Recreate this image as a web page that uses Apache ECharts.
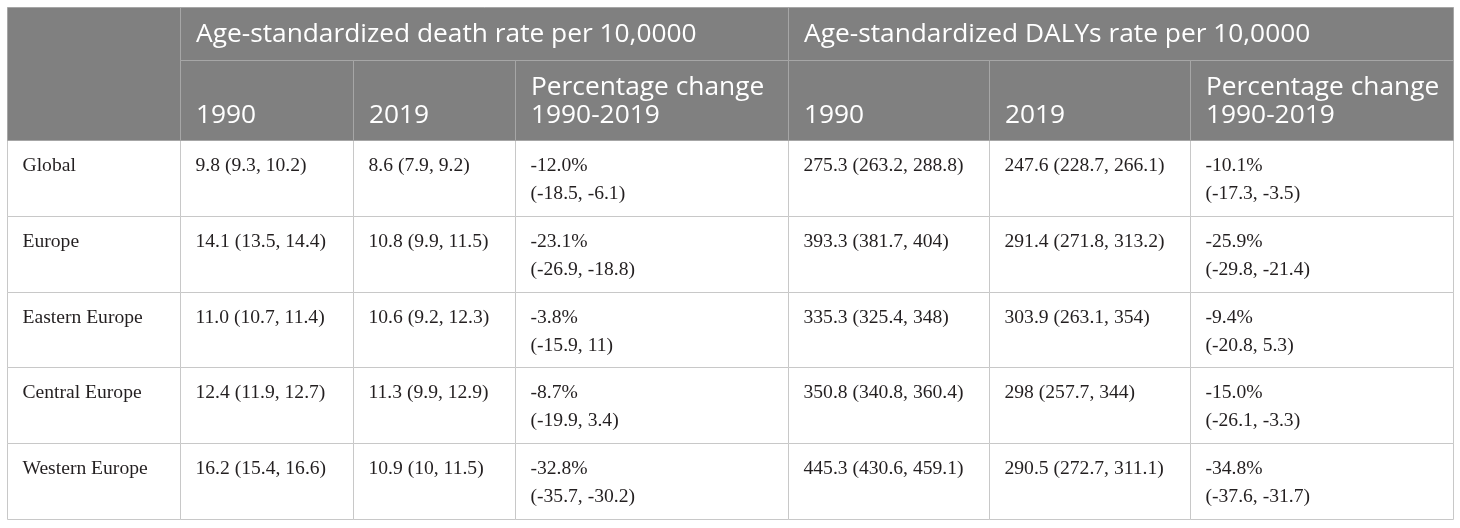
<!DOCTYPE html>
<html><head><meta charset="utf-8">
<script src="https://cdn.jsdelivr.net/npm/echarts@6/dist/echarts.min.js"></script>
<style>html,body{margin:0;padding:0;background:#fff}#c{width:1460px;height:528px}</style>
</head><body><div id="c"></div>
<script>
// ---- data ----
const regions = ['Global', 'Europe', 'Eastern Europe', 'Central Europe', 'Western Europe'];
const groupHeaders = ['Age-standardized death rate per 10,0000', 'Age-standardized DALYs rate per 10,0000'];
const subHeaders = ['1990', '2019', 'Percentage change\n1990-2019', '1990', '2019', 'Percentage change\n1990-2019'];
const death1990 = ['9.8 (9.3, 10.2)', '14.1 (13.5, 14.4)', '11.0 (10.7, 11.4)', '12.4 (11.9, 12.7)', '16.2 (15.4, 16.6)'];
const death2019 = ['8.6 (7.9, 9.2)', '10.8 (9.9, 11.5)', '10.6 (9.2, 12.3)', '11.3 (9.9, 12.9)', '10.9 (10, 11.5)'];
const deathChange = ['-12.0%\n(-18.5, -6.1)', '-23.1%\n(-26.9, -18.8)', '-3.8%\n(-15.9, 11)', '-8.7%\n(-19.9, 3.4)', '-32.8%\n(-35.7, -30.2)'];
const daly1990 = ['275.3 (263.2, 288.8)', '393.3 (381.7, 404)', '335.3 (325.4, 348)', '350.8 (340.8, 360.4)', '445.3 (430.6, 459.1)'];
const daly2019 = ['247.6 (228.7, 266.1)', '291.4 (271.8, 313.2)', '303.9 (263.1, 354)', '298 (257.7, 344)', '290.5 (272.7, 311.1)'];
const dalyChange = ['-10.1%\n(-17.3, -3.5)', '-25.9%\n(-29.8, -21.4)', '-9.4%\n(-20.8, 5.3)', '-15.0%\n(-26.1, -3.3)', '-34.8%\n(-37.6, -31.7)'];

// ---- layout (table geometry in the axis space) ----
const colEdges = [7, 180, 353, 515, 788, 989, 1190, 1453];
const headRows = [7, 60, 140];
const bodyTop = 140, bodyBottom = 519;
const rowH = (bodyBottom - bodyTop) / regions.length;
const headFont = '"Open Sans", "Noto Sans", sans-serif';
const bodyFont = '"Liberation Serif", "DejaVu Serif", serif';

// body cells: [col, row, text]
const bodyColumns = [regions, death1990, death2019, deathChange, daly1990, daly2019, dalyChange];
const bodyData = [];
bodyColumns.forEach((col, c) => col.forEach((t, r) => bodyData.push([c, r, t])));

// header cells: [colStart, colEnd, rowStart, rowEnd, text, valign]
const headData = [[0, 1, 0, 2, '', 'bottom']];
groupHeaders.forEach((t, i) => headData.push([1 + i * 3, 4 + i * 3, 0, 1, t, 'middle']));
subHeaders.forEach((t, i) => headData.push([1 + i, 2 + i, 1, 2, t, 'bottom']));

function cellRect(api, x0, y0, x1, y1) {
  const p0 = api.coord([x0, y0]), p1 = api.coord([x1, y1]);
  return { x: Math.round(p0[0]) + 0.5, y: Math.round(p0[1]) + 0.5,
           width: Math.round(p1[0]) - Math.round(p0[0]), height: Math.round(p1[1]) - Math.round(p0[1]) };
}

function renderHead(params, api) {
  const d = headData[params.dataIndex];
  const r = cellRect(api, colEdges[d[0]], headRows[d[2]], colEdges[d[1]], headRows[d[3]]);
  const children = [{ type: 'rect', shape: r, style: { fill: '#808080', stroke: '#a6a6a6', lineWidth: 1 } }];
  const lines = d[4] ? d[4].split('\n') : [];
  const lh = 28;
  lines.forEach((t, i) => {
    let cy;
    if (d[5] === 'middle') cy = r.y + r.height / 2 + 0.5;
    else cy = r.y + r.height - 25 - (lines.length - 1 - i) * lh;
    children.push({ type: 'text', style: { text: t, x: r.x + 15.5, y: cy, fill: '#ffffff',
      fontSize: 26.3, fontFamily: headFont, verticalAlign: 'middle', align: 'left' } });
  });
  return { type: 'group', children };
}

function renderBody(params, api) {
  const c = api.value(0), row = api.value(1);
  const text = bodyData[params.dataIndex][2];
  const y0 = bodyTop + row * rowH;
  const r = cellRect(api, colEdges[c], y0, colEdges[c + 1], y0 + rowH);
  const children = [{ type: 'rect', shape: r, style: { fill: '#ffffff', stroke: '#c8c8c8', lineWidth: 1 } }];
  text.split('\n').forEach((t, i) => {
    children.push({ type: 'text', style: { text: t, x: r.x + 15, y: r.y + 25.5 + i * 28, fill: '#231f20',
      fontSize: 19.6, fontFamily: bodyFont, verticalAlign: 'middle', align: 'left' } });
  });
  return { type: 'group', children };
}

const chart = echarts.init(document.getElementById('c'), null, { renderer: 'canvas' });
chart.setOption({
  animation: false,
  grid: { left: 0, top: 0, right: 0, bottom: 0 },
  xAxis: { type: 'value', min: 0, max: 1460, show: false },
  yAxis: { type: 'value', min: 0, max: 528, inverse: true, show: false },
  series: [
    { type: 'custom', renderItem: renderBody, data: bodyData.map(d => [d[0], d[1]]), silent: true, clip: false },
    { type: 'custom', renderItem: renderHead, data: headData.map(d => [d[0], d[2]]), silent: true, clip: false }
  ]
});
</script></body></html>
